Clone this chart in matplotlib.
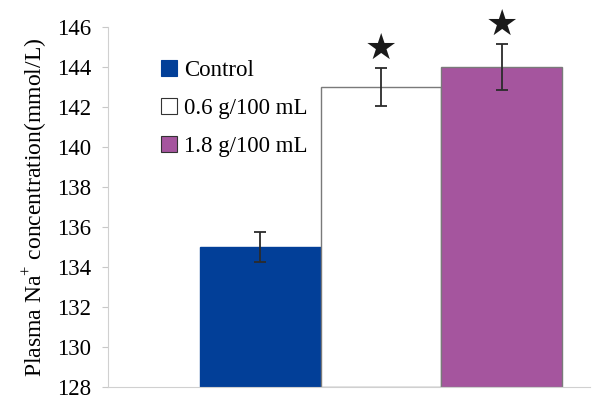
import matplotlib
matplotlib.use("Agg")
import matplotlib.pyplot as plt
from matplotlib.lines import Line2D

groups = ["Control", "0.6 g/100 mL", "1.8 g/100 mL"]
values = [135.0, 143.0, 144.0]
errors = [0.75, 0.95, 1.15]
colors = ["#023f98", "#ffffff", "#a5559e"]
edges = ["#023f98", "#7a7a7a", "#7a7a7a"]
significant = [False, True, True]
yticks = [128, 130, 132, 134, 136, 138, 140, 142, 144, 146]

plt.rcParams['font.family'] = ['Liberation Serif', 'DejaVu Serif']
plt.rcParams['mathtext.fontset'] = 'custom'
plt.rcParams['mathtext.rm'] = 'Liberation Serif'

fig = plt.figure(figsize=(5.95, 4.01), dpi=100)
ax = fig.add_axes([0.1815, 0.035, 0.81, 0.897])

x = list(range(len(groups)))
ax.bar(x, [v - 128 for v in values], bottom=128, width=1.0, color=colors,
       edgecolor=edges, linewidth=1.0, zorder=2)
ax.errorbar(x, values, yerr=errors, fmt='none', ecolor='#2b2b2b',
            elinewidth=1.3, capsize=4.5, capthick=1.3, zorder=3)
for xi, v, e, s in zip(x, values, errors, significant):
    if s:
        ax.text(xi, v + e + 0.1, "★", ha='center', va='bottom', fontsize=26,
                color='#1a1a1a', family=['DejaVu Sans'])

ax.set_ylim(128, 146)
ax.set_xlim(-1.26, 2.73)
ax.set_yticks(yticks)
ax.set_xticks([])
ax.tick_params(axis='y', labelsize=16.5, length=4, color='#c8c8c8', pad=8)
for sp in ['top', 'right']:
    ax.spines[sp].set_visible(False)
ax.spines['left'].set_color('#d0d0d0')
ax.spines['bottom'].set_color('#d0d0d0')
ax.set_ylabel("Plasma Na$^{+}$ concentration(mmol/L)", fontsize=17, labelpad=6)

handles = [Line2D([], [], marker='s', linestyle='none', markersize=11,
                  markerfacecolor=c, markeredgecolor=('#333333' if c != "#023f98" else c),
                  markeredgewidth=0.8) for c in colors]
ax.legend(handles, groups, loc='upper left', bbox_to_anchor=(0.088, 0.935),
          frameon=False, fontsize=16.5, handlelength=0.8, handletextpad=0.25,
          labelspacing=0.75, borderaxespad=0)

fig.savefig("out.png", dpi=100)
